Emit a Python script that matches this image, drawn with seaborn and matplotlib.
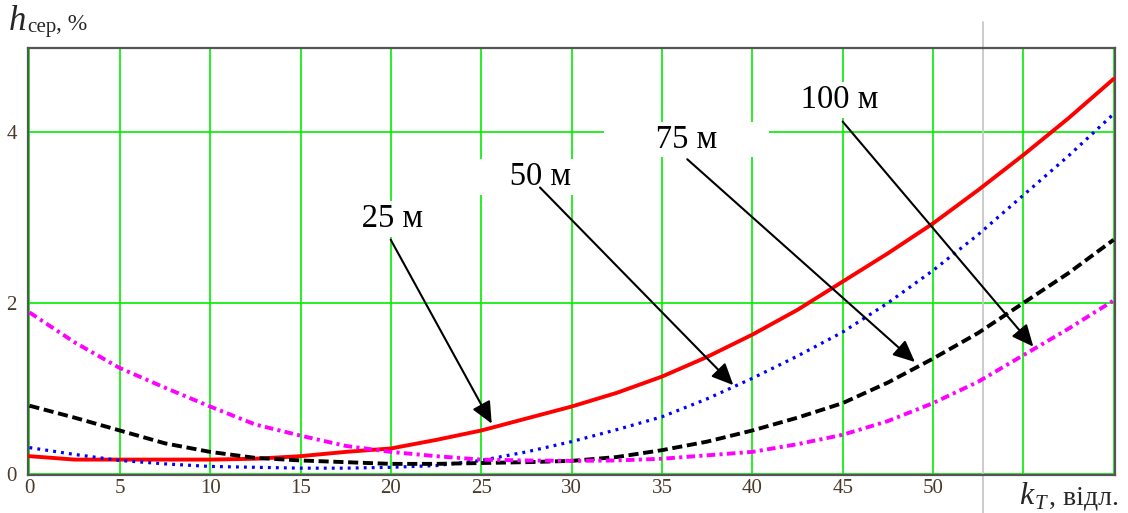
import numpy as np
import pandas as pd
import matplotlib
matplotlib.use('Agg')
import matplotlib.pyplot as plt
import seaborn as sns

# ── data ─────────────────────────────────────────────────────────────────────
k_t = [0, 2.5, 5, 7.5, 10, 12.5, 15, 17.5, 20, 22.5, 25, 27.5, 30,
       32.5, 35, 37.5, 40, 42.5, 45, 47.5, 50, 52.5, 55, 57.5, 60]
h_25 = [0.21, 0.17, 0.17, 0.17, 0.17, 0.18, 0.21, 0.26, 0.30, 0.40, 0.51, 0.65, 0.79,
        0.95, 1.14, 1.37, 1.63, 1.92, 2.25, 2.58, 2.93, 3.32, 3.73, 4.16, 4.62]
h_50 = [0.31, 0.23, 0.16, 0.12, 0.09, 0.08, 0.07, 0.07, 0.08, 0.10, 0.16, 0.26, 0.38,
        0.52, 0.67, 0.88, 1.12, 1.38, 1.66, 2.00, 2.38, 2.80, 3.26, 3.72, 4.21]
h_75 = [0.80, 0.66, 0.51, 0.36, 0.26, 0.19, 0.16, 0.14, 0.12, 0.12, 0.13, 0.14, 0.155,
        0.20, 0.28, 0.38, 0.51, 0.66, 0.83, 1.07, 1.35, 1.65, 2.00, 2.35, 2.74]
h_100 = [1.89, 1.54, 1.24, 1.01, 0.79, 0.58, 0.45, 0.33, 0.26, 0.21, 0.17, 0.16, 0.155,
         0.16, 0.18, 0.22, 0.26, 0.35, 0.46, 0.62, 0.83, 1.08, 1.39, 1.70, 2.03]
series_names = ['25 м', '50 м', '75 м', '100 м']
x_ticks = [0, 5, 10, 15, 20, 25, 30, 35, 40, 45, 50, 55, 60]
x_tick_labels = ['0', '5', '10', '15', '20', '25', '30', '35', '40', '45', '50', '', '']
y_ticks = [0, 2, 4]
cursor_x = 52.77

# label text position and arrow tip (data units)
label_pos = [(20.06, 2.98), (28.25, 3.47), (36.36, 3.91), (44.85, 4.37)]
arrow_start = [(19.99, 2.74), (28.25, 3.35), (36.40, 3.68), (45.00, 4.12)]
arrow_tip = [(25.58, 0.59), (38.95, 1.04), (49.00, 1.31), (55.55, 1.49)]

df = pd.DataFrame({'k': k_t * 4,
                   'h': h_25 + h_50 + h_75 + h_100,
                   'L': np.repeat(series_names, len(k_t))})

sns.set_theme(style='white')
plt.rcParams['font.family'] = ['Liberation Serif', 'DejaVu Serif']

W, H = 1128, 513
fig = plt.figure(figsize=(W / 100, H / 100), dpi=100)
ax = fig.add_axes([28 / W, 38 / H, 1087 / W, 427 / H])

styles = {
    '25 м':  dict(color='#ff0000', lw=2.8, ls='-'),
    '50 м':  dict(color='#0000ff', lw=2.3, ls=(0, (0.9, 1.6))),
    '75 м':  dict(color='#000000', lw=2.8, ls=(0, (2.6, 1.2))),
    '100 м': dict(color='#ff00ff', lw=2.8, ls=(0, (2.2, 1.1, 0.8, 1.1))),
}
for name in series_names:
    st = styles[name]
    sns.lineplot(data=df[df['L'] == name], x='k', y='h', ax=ax, color=st['color'],
                 linewidth=st['lw'], linestyle=st['ls'], legend=False, zorder=3)

ax.set_xlim(-0.08, 60.07)
ax.set_ylim(-0.01, 4.98)
ax.set_xticks(x_ticks)
ax.set_xticklabels(x_tick_labels)
ax.set_yticks(y_ticks)
ax.set_yticklabels([str(t) for t in y_ticks])
ax.tick_params(length=0, labelsize=15, labelcolor='#4a3a2a')
ax.tick_params(axis='x', pad=3)
ax.tick_params(axis='y', pad=8)
ax.grid(True, color='#00ee00', lw=1.2)
ax.set_axisbelow(True)
ax.set_xlabel('')
ax.set_ylabel('')
for sp in ax.spines.values():
    sp.set_color('#555555')
    sp.set_linewidth(1.6)

# cursor line
ax.axvline(cursor_x, ymin=-0.09, ymax=1.06, color='#c8c8c8', lw=1.3,
           clip_on=False, zorder=1)

# curve labels with white boxes and arrows
for name, (tx, ty), (sx, sy), (ex, ey) in zip(series_names, label_pos, arrow_start, arrow_tip):
    sp_pad = ' ' * (5 if len(name) > 4 else 6)
    ax.text(tx, ty, sp_pad + name + sp_pad, fontsize=23.5, ha='center', va='center',
            color='black', zorder=4,
            bbox=dict(boxstyle='square,pad=0.08', fc='white', ec='none'))
    ax.annotate('', xy=(ex, ey), xytext=(sx, sy), zorder=5,
                arrowprops=dict(arrowstyle='-|>,head_length=0.55,head_width=0.25',
                                color='black', lw=1.5,
                                mutation_scale=24, shrinkA=0, shrinkB=0))

# axis titles
def fx(px):
    return px / W

def fy(py):
    return 1 - py / H

fig.text(fx(9), fy(30), 'h', fontsize=25, style='italic', va='baseline')
fig.text(fx(27), fy(32), 'сер', fontsize=15, va='baseline')
fig.text(fx(56), fy(30), ', %', fontsize=17, va='baseline')

fig.text(fx(1019), fy(504), 'k', fontsize=23, style='italic', va='baseline')
fig.text(fx(1035), fy(509), 'T', fontsize=15, style='italic', va='baseline')
fig.text(fx(1049), fy(504), ', відл.', fontsize=20, va='baseline')

fig.savefig('out.png', dpi=100, facecolor='white')
